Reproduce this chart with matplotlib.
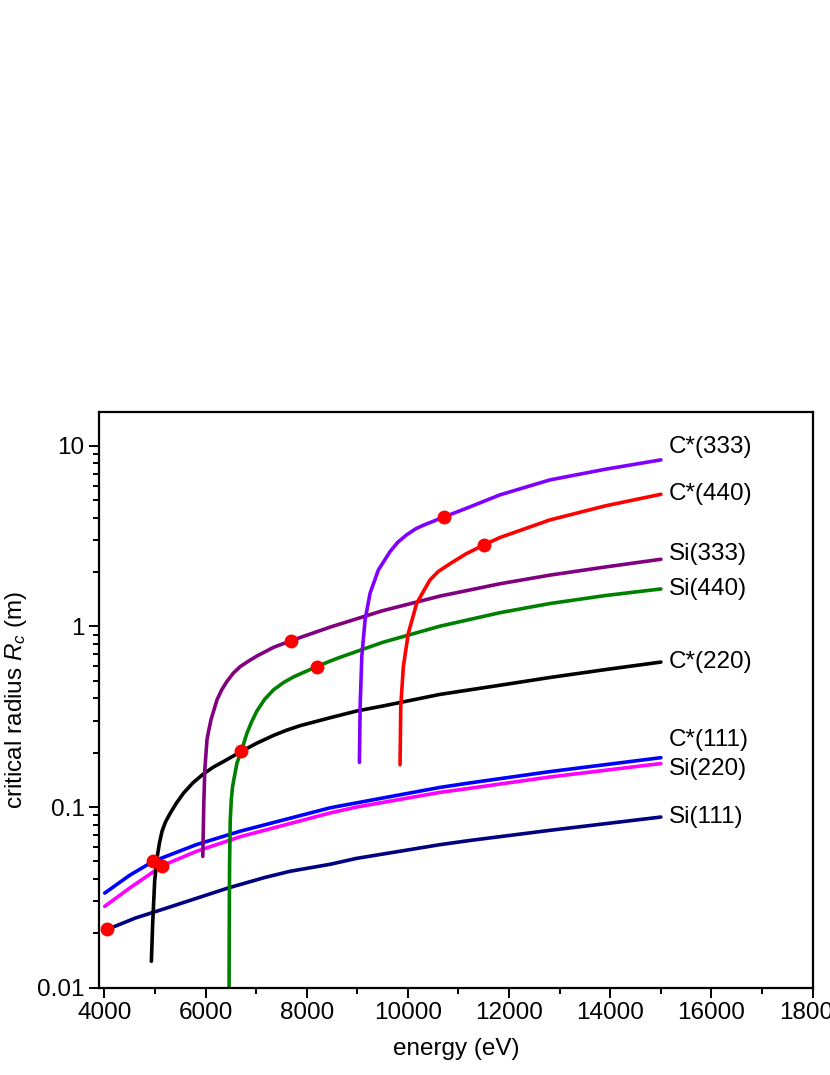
import matplotlib
matplotlib.use("Agg")
import matplotlib.pyplot as plt
from matplotlib.ticker import MultipleLocator, LogLocator, NullFormatter, FixedLocator, FixedFormatter

plt.rcParams['font.family'] = ['Liberation Sans', 'DejaVu Sans']
plt.rcParams['mathtext.fontset'] = 'custom'
plt.rcParams['mathtext.it'] = 'Liberation Sans:italic'
plt.rcParams['mathtext.rm'] = 'Liberation Sans'

# ---- data (energy in eV, critical radius in m) ----
si111_E = [4000, 4614, 5161, 6456, 7180, 7674, 8463, 8990, 10635, 11227, 12806, 15000]
si111_R = [0.0207, 0.0243, 0.0272, 0.0357, 0.0408, 0.0441, 0.0482, 0.0520, 0.0619, 0.0653, 0.0743, 0.088]

si220_E = [4008, 4501, 5141, 5818, 6687, 8463, 8990, 10635, 11227, 12806, 15000]
si220_R = [0.0282, 0.0356, 0.0473, 0.0568, 0.0685, 0.0927, 0.1000, 0.1205, 0.127, 0.1466, 0.174]

c111_E = [4008, 4501, 4963, 5818, 6687, 8463, 8990, 10635, 11227, 12806, 15000]
c111_R = [0.0334, 0.0419, 0.0500, 0.0619, 0.0735, 0.0990, 0.1055, 0.1284, 0.136, 0.157, 0.1875]

c220_E = [4930, 4956, 4995, 5045, 5090, 5141, 5210, 5305, 5430, 5567, 5750, 5962, 6150, 6357, 6706,
          7020, 7344, 7600, 7871, 8463, 8990, 9500, 10633, 11819, 12806, 13900, 15000]
c220_R = [0.0140, 0.0228, 0.0390, 0.0530, 0.0633, 0.0735, 0.0828, 0.0927, 0.1057, 0.1195, 0.136, 0.1527,
          0.166, 0.1786, 0.203, 0.226, 0.249, 0.266, 0.282, 0.312, 0.340, 0.362, 0.420, 0.472, 0.521,
          0.576, 0.634]

si440_E = [6465, 6468, 6471, 6476, 6489, 6510, 6535, 6621, 6706, 6819, 6920, 7016, 7170, 7344,
           7540, 7739, 8201, 8463, 8661, 9500, 10635, 11819, 12806, 13900, 15000]
si440_R = [0.008, 0.018, 0.030, 0.050, 0.085, 0.110, 0.130, 0.175, 0.203, 0.2565, 0.300, 0.340, 0.395,
           0.445, 0.488, 0.525, 0.599, 0.642, 0.674, 0.815, 1.002, 1.19, 1.337, 1.48, 1.61]

si333_E = [5946, 5966, 5986, 6029, 6060, 6108, 6227, 6320, 6424, 6550, 6687, 6850, 7016, 7344, 7687,
           8463, 9500, 10635, 11819, 12806, 13900, 15000]
si333_R = [0.0533, 0.105, 0.161, 0.2355, 0.262, 0.304, 0.392, 0.445, 0.496, 0.551, 0.599, 0.642, 0.685,
           0.765, 0.832, 0.990, 1.22, 1.47, 1.72, 1.92, 2.13, 2.35]

c333_E = [9042, 9056, 9089, 9154, 9253, 9417, 9648, 9800, 9977, 10150, 10300, 10714,
          11200, 11819, 12806, 13900, 15000]
c333_R = [0.1766, 0.360, 0.681, 1.087, 1.526, 2.053, 2.593, 2.92, 3.21, 3.46, 3.62, 4.03,
          4.55, 5.34, 6.46, 7.40, 8.34]

c440_E = [9845, 9859, 9910, 10009, 10175, 10437, 10600, 10832, 11150, 11503, 11819, 12806, 13900, 15000]
c440_R = [0.1714, 0.360, 0.599, 0.917, 1.344, 1.807, 2.01, 2.22, 2.52, 2.824, 3.10, 3.88, 4.64, 5.38]

# marked points (red dots)
dot_E = [4060, 4963, 5141, 6706, 7687, 8201, 10714, 11503]
dot_R = [0.0210, 0.0500, 0.0473, 0.203, 0.832, 0.599, 4.02, 2.824]

labels = ['Si(111)', 'Si(220)', 'C*(111)', 'C*(220)', 'Si(440)', 'Si(333)', 'C*(333)', 'C*(440)']
colors = ['#000080', '#FF00FF', '#0000FF', '#000000', '#008000', '#800080', '#8000FF', '#FF0000']
series = [(si111_E, si111_R), (si220_E, si220_R), (c111_E, c111_R), (c220_E, c220_R),
          (si440_E, si440_R), (si333_E, si333_R), (c333_E, c333_R), (c440_E, c440_R)]
label_dy = [0, -4, 13, 0, 0, 4, 9, 0]   # vertical label offset in points

x_ticks = [4000, 6000, 8000, 10000, 12000, 14000, 16000, 18000]
y_ticks = [0.01, 0.1, 1, 10]
y_ticklabels = ['0.01', '0.1', '1', '10']

FS = 17.5

fig = plt.figure(figsize=(8.30, 10.75), dpi=100)
ax = fig.add_axes([0.1196, 0.0812, 0.9791 - 0.1196, 0.6165 - 0.0812])

for (E, R), c, lab, dy in zip(series, colors, labels, label_dy):
    ax.plot(E, R, color=c, lw=2.6, solid_capstyle='round', solid_joinstyle='round', zorder=2)
    ax.annotate(lab, xy=(E[-1], R[-1]), xytext=(6, dy), textcoords='offset points',
                ha='left', va='center', fontsize=FS, color='black')

ax.plot(dot_E, dot_R, 'o', color='#FF0000', ms=10, mec='none', zorder=5)

ax.set_yscale('log')
ax.set_xlim(3900, 18000)
ax.set_ylim(0.01, 15.3)

ax.xaxis.set_major_locator(FixedLocator(x_ticks))
ax.xaxis.set_minor_locator(MultipleLocator(1000))
ax.yaxis.set_major_locator(FixedLocator(y_ticks))
ax.yaxis.set_major_formatter(FixedFormatter(y_ticklabels))
ax.yaxis.set_minor_locator(LogLocator(base=10, subs=range(2, 10)))
ax.yaxis.set_minor_formatter(NullFormatter())

ax.tick_params(which='both', direction='out', top=False, right=False, width=1.4, labelsize=FS)
ax.tick_params(which='major', length=7)
ax.tick_params(which='minor', length=4)
for s in ax.spines.values():
    s.set_linewidth(1.6)

ax.set_xlabel('energy (eV)', fontsize=FS, labelpad=10)
ax.set_ylabel('critical radius $R_c$ (m)', fontsize=FS, labelpad=6)

fig.savefig('out.png', dpi=100)
